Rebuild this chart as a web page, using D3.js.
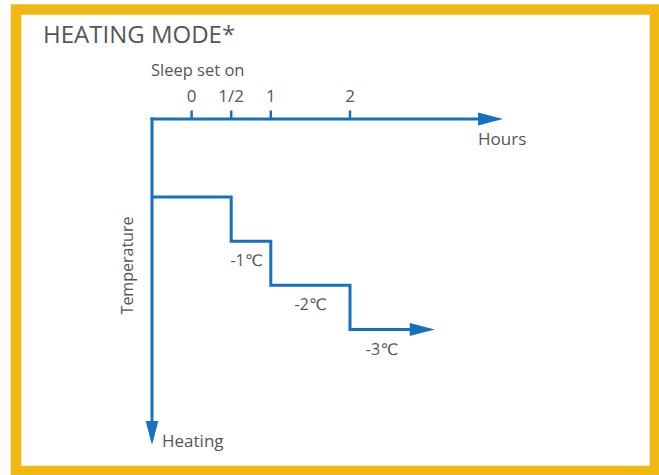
<!DOCTYPE html>
<html>
<head>
<meta charset="utf-8">
<script src="https://cdn.jsdelivr.net/npm/d3@7"></script>
<style>
  html, body { margin: 0; padding: 0; background: #fff; }
  svg { display: block; }
  text { font-family: "Open Sans", "DejaVu Sans", sans-serif; fill: #555658; }
</style>
</head>
<body>
<svg id="chart" width="659" height="475"></svg>
<script>
// Hour ticks along the top axis
const hourTicks = [0, 0.5, 1, 2];
const hourTickLabels = ["0", "1/2", "1", "2"];

// Sleep profile: each level starts at the given hour (first one at the axis origin)
const stepStartHours = [-0.5, 0.5, 1, 2];
const stepOffsets = [0, -1, -2, -3];
const stepEndHour = 3.07;

// Offset labels drawn under the lowered levels
const offsetLabels = ["-1℃", "-2℃", "-3℃"];
const offsetLabelHours = [0.49, 1.3, 2.2];
const offsetLabelValues = [-1, -2, -3];

const blue = "#1570be";
const yellow = "#f0b912";

const svg = d3.select("#chart");

// Frame
svg.append("rect")
  .attr("x", 16).attr("y", 9.5)
  .attr("width", 639).attr("height", 461.5)
  .attr("fill", "#fff")
  .attr("stroke", yellow)
  .attr("stroke-width", 10.5);

svg.append("text")
  .attr("x", 43).attr("y", 43)
  .attr("font-size", 24)
  .text("HEATING MODE*");

// Scales
const x = d3.scaleLinear().domain([-0.5, 2]).range([152, 350]);
const y = d3.scaleLinear().domain([0, -3]).range([197, 329.5]);

const axisY = 119;          // horizontal time axis
const axisX = x(-0.5);      // vertical temperature axis
const hoursEnd = 503;
const heatingEnd = 445;

const g = svg.append("g");

// Horizontal axis with arrowhead
g.append("line")
  .attr("x1", axisX - 1.5).attr("x2", hoursEnd - 20)
  .attr("y1", axisY).attr("y2", axisY)
  .attr("stroke", blue).attr("stroke-width", 3);
g.append("path")
  .attr("d", `M${hoursEnd},${axisY} L${hoursEnd - 25},${axisY - 6.5} L${hoursEnd - 25},${axisY + 6.5} Z`)
  .attr("fill", blue);

// Vertical axis with arrowhead
g.append("line")
  .attr("x1", axisX).attr("x2", axisX)
  .attr("y1", axisY - 1.5).attr("y2", heatingEnd - 20)
  .attr("stroke", blue).attr("stroke-width", 3);
g.append("path")
  .attr("d", `M${axisX},${heatingEnd} L${axisX - 6.3},${heatingEnd - 24} L${axisX + 6.3},${heatingEnd - 24} Z`)
  .attr("fill", blue);

// Hour ticks and labels
g.selectAll(".tick").data(hourTicks).join("line")
  .attr("class", "tick")
  .attr("x1", d => x(d)).attr("x2", d => x(d))
  .attr("y1", axisY).attr("y2", axisY - 8.5)
  .attr("stroke", blue).attr("stroke-width", 2.5);
g.selectAll(".tlabel").data(hourTicks).join("text")
  .attr("class", "tlabel")
  .attr("x", d => x(d)).attr("y", 102)
  .attr("text-anchor", "middle")
  .attr("font-size", 17)
  .text((d, i) => hourTickLabels[i]);

g.append("text")
  .attr("x", 151).attr("y", 76)
  .attr("font-size", 16.5)
  .text("Sleep set on");

g.append("text")
  .attr("x", 478).attr("y", 145)
  .attr("font-size", 17)
  .text("Hours");

g.append("text")
  .attr("x", 162).attr("y", 447)
  .attr("font-size", 17)
  .text("Heating");

g.append("text")
  .attr("transform", `translate(133,265.5) rotate(-90)`)
  .attr("text-anchor", "middle")
  .attr("font-size", 16)
  .text("Temperature");

// Step profile
const pts = [];
stepStartHours.forEach((h, i) => {
  if (i > 0) pts.push([x(h), y(stepOffsets[i - 1])]);
  pts.push([x(h), y(stepOffsets[i])]);
});
const arrowTip = x(stepEndHour);
pts.push([arrowTip - 20, y(stepOffsets[stepOffsets.length - 1])]);

g.append("path")
  .attr("d", d3.line()(pts))
  .attr("fill", "none")
  .attr("stroke", blue).attr("stroke-width", 3)
  .attr("stroke-linejoin", "miter");
const lastY = y(stepOffsets[stepOffsets.length - 1]);
g.append("path")
  .attr("d", `M${arrowTip},${lastY} L${arrowTip - 25},${lastY - 6.5} L${arrowTip - 25},${lastY + 6.5} Z`)
  .attr("fill", blue);

// Offset labels
g.selectAll(".olabel").data(offsetLabels).join("text")
  .attr("class", "olabel")
  .attr("x", (d, i) => x(offsetLabelHours[i]))
  .attr("y", (d, i) => y(offsetLabelValues[i]) + 25)
  .attr("font-size", 16)
  .text(d => d);
</script>
</body>
</html>
